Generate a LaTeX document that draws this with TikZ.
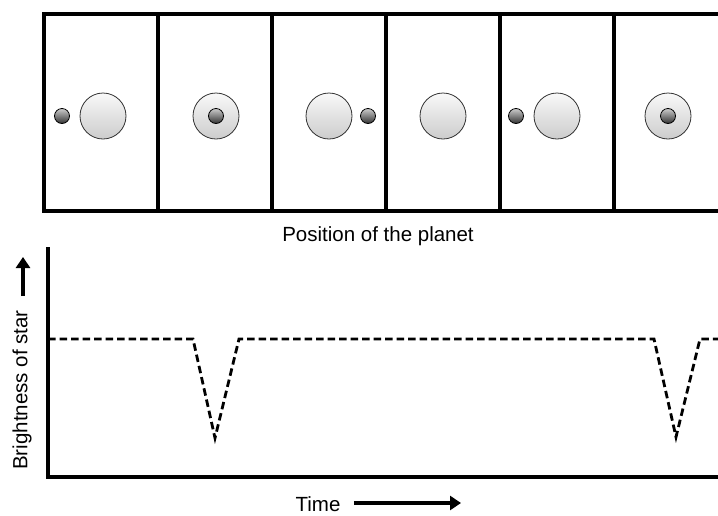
\documentclass[tikz,border=0pt]{standalone}
\usepackage{fontspec}
\setmainfont{Liberation Sans}
\usetikzlibrary{arrows.meta}

\tikzset{
  frame/.style={line width=3.8pt},
  sun/.style={circle, draw=black!80, line width=0.8pt, minimum size=46pt, inner sep=0pt,
    top color=gray!5, bottom color=gray!40},
  planet/.style={circle, draw=black, line width=0.8pt, minimum size=15pt, inner sep=0pt,
    top color=gray!40, bottom color=black!80},
  flux/.style={line width=2.8pt, dash pattern=on 7.5pt off 4pt},
  bigarrow/.style={line width=3.8pt, -{Triangle[length=11pt, width=14pt]}},
  label/.style={draw=none, font=\fontsize{20.5}{23}\selectfont}
}

\begin{document}
\begin{tikzpicture}[x=1pt, y=-1pt]
\useasboundingbox (0,0) rectangle (718,515);
%%%%%%%%%%%%%%%%%%%%%%%%%%%%%%% Panels with the orbit positions
\draw[frame] (718,14) -- (44,14) -- (44,211) -- (718,211);
\foreach \x in {158,272,386,500,614}
  \draw[frame] (\x,14) -- (\x,211);

\node[sun](star1) at (103,116){};
\node[planet](planet1) at (62,116){};
\node[sun](star2) at (216,116){};
\node[planet](planet2) at (216,116){};
\node[sun](star3) at (329,116){};
\node[planet](planet3) at (368,116){};
\node[sun](star4) at (443,116){};
\node[sun](star5) at (557,116){};
\node[planet](planet5) at (516,116){};
\node[sun](star6) at (668,116){};
\node[planet](planet6) at (668,116){};

\node[label](posLabel) at (378,236){Position of the planet};

%%%%%%%%%%%%%%%%%%%%%%%%%%%%%%% Light curve
\draw[frame] (48,247) -- (48,477) -- (718,477);
\draw[flux] (48,339) -- (193,339) -- (215,438) -- (239,339) -- (654,339) -- (676,437) -- (700,339) -- (718,339);

\node[label, rotate=90](brightLabel) at (22,390){Brightness of star};
\coordinate (brightTail) at (23,296);
\coordinate (brightTip) at (23,257);
\draw[bigarrow] (brightTail) -- (brightTip);

\node[label](timeLabel) at (318,504){Time};
\coordinate (timeTip) at (461,503);
\draw[bigarrow] (timeLabel.east |- timeTip) ++(10,0) -- (timeTip);
\end{tikzpicture}
\end{document}
